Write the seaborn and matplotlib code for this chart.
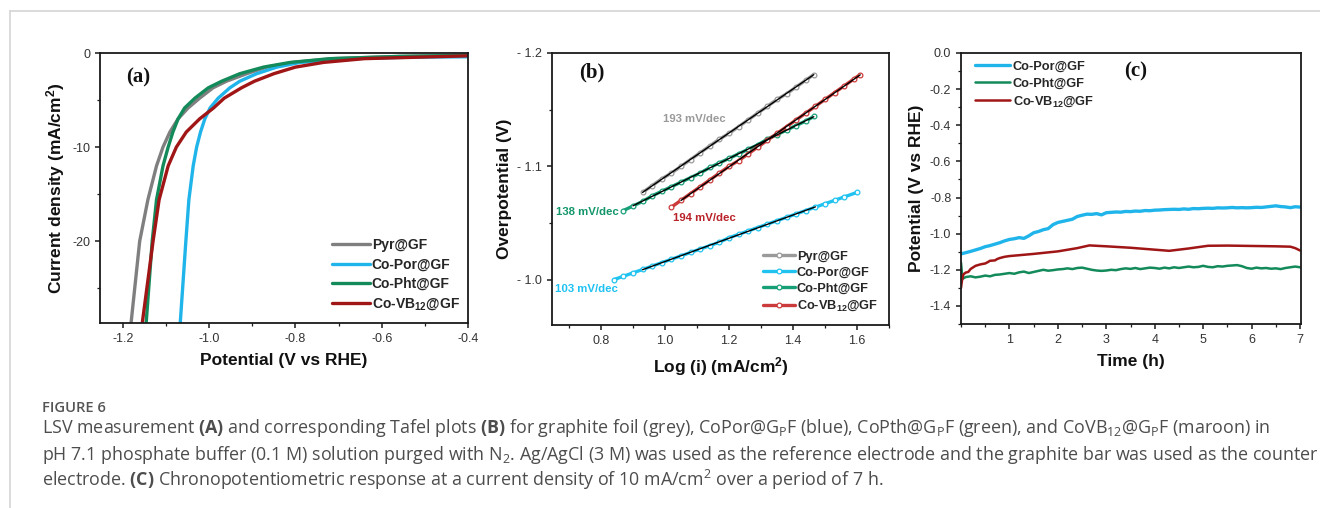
import numpy as np
import pandas as pd
import matplotlib
matplotlib.use("Agg")
import matplotlib.pyplot as plt
from matplotlib.ticker import MultipleLocator, FuncFormatter
from matplotlib.lines import Line2D
import seaborn as sns

# ---------------- data ----------------
series_a = ["Pyr@GF", "Co-Por@GF", "Co-Pht@GF", "Co-VB12@GF"]
labels = ["Pyr@GF", "Co-Por@GF", "Co-Pht@GF", r"Co-VB$_{\mathsf{12}}$@GF"]

# (a) LSV: potential (V vs RHE) and current density (mA/cm2)
pyr_E = [-1.186, -1.181, -1.161, -1.142, -1.122, -1.107, -1.091, -1.072, -1.049, -1.022,
         -0.991, -0.960, -0.913, -0.867, -0.805, -0.712, -0.557, -0.400]
pyr_j = [-30.0, -28.7, -20.0, -15.6, -12.0, -10.0, -8.4, -7.0, -5.85, -4.8,
         -3.7, -3.0, -2.2, -1.5, -1.0, -0.6, -0.36, -0.25]
por_E = [-1.069, -1.067, -1.054, -1.047, -1.037, -1.029, -1.020, -1.010, -0.998, -0.979,
         -0.952, -0.929, -0.890, -0.843, -0.789, -0.673, -0.540, -0.400]
por_j = [-30.0, -28.7, -20.0, -15.6, -12.0, -10.0, -8.4, -7.0, -5.85, -4.8,
         -3.7, -3.0, -2.2, -1.5, -1.0, -0.6, -0.45, -0.40]
pht_E = [-1.148, -1.146, -1.132, -1.122, -1.107, -1.095, -1.084, -1.072, -1.057, -1.033,
         -1.002, -0.971, -0.929, -0.874, -0.812, -0.720, -0.557, -0.400]
pht_j = [-30.0, -28.7, -20.0, -15.6, -12.0, -10.0, -8.4, -7.0, -5.85, -4.8,
         -3.7, -3.0, -2.2, -1.5, -1.0, -0.6, -0.36, -0.25]
vb_E = [-1.158, -1.155, -1.130, -1.116, -1.095, -1.076, -1.053, -1.022, -0.990, -0.965,
        -0.925, -0.895, -0.850, -0.800, -0.735, -0.640, -0.480, -0.400]
vb_j = [-30.0, -28.7, -20.0, -15.6, -12.0, -10.0, -8.4, -7.0, -5.85, -4.8,
        -3.7, -3.0, -2.2, -1.5, -1.0, -0.6, -0.40, -0.30]

# (b) Tafel: log(i) and overpotential (V)
pyr_logi = [0.93, 0.96, 0.99, 1.02, 1.05, 1.08, 1.11, 1.14, 1.17, 1.20, 1.23, 1.26, 1.29,
            1.32, 1.35, 1.38, 1.41, 1.44, 1.465]
pyr_eta = [-1.077, -1.083, -1.089, -1.094, -1.100, -1.106, -1.112, -1.118, -1.124, -1.129,
           -1.135, -1.141, -1.147, -1.153, -1.159, -1.164, -1.170, -1.176, -1.181]
por_logi = [0.84, 0.87, 0.90, 0.93, 0.96, 0.99, 1.02, 1.05, 1.08, 1.11, 1.14, 1.17, 1.20,
            1.23, 1.26, 1.29, 1.32, 1.35, 1.38, 1.41, 1.44, 1.47, 1.50, 1.53, 1.56, 1.60]
por_eta = [-1.000, -1.003, -1.006, -1.009, -1.012, -1.015, -1.018, -1.021, -1.024, -1.027,
           -1.030, -1.033, -1.037, -1.040, -1.043, -1.046, -1.049, -1.052, -1.055, -1.058,
           -1.061, -1.064, -1.067, -1.070, -1.073, -1.077]
pht_logi = [0.87, 0.90, 0.93, 0.96, 0.99, 1.02, 1.05, 1.08, 1.11, 1.14, 1.17, 1.20, 1.23,
            1.26, 1.29, 1.32, 1.35, 1.38, 1.41, 1.44, 1.465]
pht_eta = [-1.061, -1.065, -1.069, -1.074, -1.078, -1.082, -1.086, -1.090, -1.094, -1.099,
           -1.103, -1.107, -1.111, -1.115, -1.119, -1.124, -1.128, -1.132, -1.136, -1.140,
           -1.144]
vb_logi = [1.02, 1.05, 1.08, 1.11, 1.14, 1.17, 1.20, 1.23, 1.26, 1.29, 1.32, 1.35, 1.38,
           1.41, 1.44, 1.47, 1.50, 1.53, 1.56, 1.59, 1.61]
vb_eta = [-1.064, -1.070, -1.076, -1.082, -1.088, -1.094, -1.100, -1.105, -1.111, -1.117,
          -1.123, -1.129, -1.135, -1.141, -1.147, -1.153, -1.159, -1.165, -1.171, -1.177,
          -1.181]
tafel_slopes = ["193 mV/dec", "103 mV/dec", "138 mV/dec", "194 mV/dec"]

# (c) chronopotentiometry: time (h) and potential (V vs RHE)
t_por = [round(0.1 * k, 1) for k in range(71)]
E_por = [-1.112, -1.105, -1.098, -1.090, -1.082, -1.072, -1.066, -1.058, -1.050, -1.040,
         -1.032, -1.028, -1.022, -1.026, -1.012, -0.995, -0.988, -0.978, -0.972, -0.950,
         -0.938, -0.932, -0.926, -0.920, -0.905, -0.898, -0.892, -0.893, -0.889, -0.896,
         -0.884, -0.882, -0.880, -0.881, -0.877, -0.878, -0.875, -0.876, -0.872, -0.873,
         -0.870, -0.869, -0.867, -0.866, -0.865, -0.866, -0.863, -0.865, -0.861, -0.862,
         -0.860, -0.859, -0.860, -0.857, -0.858, -0.857, -0.855, -0.857, -0.856, -0.857,
         -0.856, -0.854, -0.855, -0.852, -0.849, -0.846, -0.850, -0.852, -0.856, -0.851,
         -0.853]
t_pht = [0.0, 0.03] + [round(0.1 * k, 1) for k in range(1, 71)]
E_pht = [-1.160, -1.250,
         -1.240, -1.236, -1.242, -1.238, -1.232, -1.236, -1.228, -1.226, -1.222, -1.218,
         -1.222, -1.214, -1.210, -1.218, -1.212, -1.206, -1.200, -1.205, -1.202, -1.198,
         -1.196, -1.192, -1.196, -1.190, -1.188, -1.194, -1.200, -1.204, -1.206, -1.204,
         -1.200, -1.202, -1.196, -1.192, -1.195, -1.190, -1.196, -1.192, -1.188, -1.190,
         -1.194, -1.188, -1.192, -1.186, -1.190, -1.186, -1.182, -1.186, -1.184, -1.178,
         -1.184, -1.186, -1.180, -1.182, -1.178, -1.176, -1.174, -1.180, -1.190, -1.194,
         -1.188, -1.192, -1.190, -1.194, -1.192, -1.196, -1.190, -1.186, -1.182, -1.186]
t_vb = [0.0, 0.02, 0.05, 0.10, 0.15, 0.20, 0.30, 0.40, 0.50, 0.55, 0.60, 0.70, 0.75, 0.80,
        0.90, 1.00, 1.50, 2.00, 2.40, 2.65, 3.00, 3.50, 4.30, 4.70, 5.10, 5.50, 6.00, 6.50,
        6.80, 6.90, 7.00]
E_vb = [-1.300, -1.260, -1.225, -1.215, -1.212, -1.195, -1.178, -1.170, -1.165, -1.158,
        -1.150, -1.148, -1.140, -1.135, -1.128, -1.124, -1.112, -1.098, -1.080, -1.065,
        -1.070, -1.078, -1.095, -1.082, -1.067, -1.066, -1.068, -1.070, -1.072, -1.080,
        -1.093]

# ---------------- style ----------------
sns.set_theme(style="ticks")
plt.rcParams.update({
    "font.family": ["Liberation Sans", "DejaVu Sans"],
    "axes.unicode_minus": False,
    "mathtext.fontset": "custom",
    "mathtext.rm": "Open Sans",
    "mathtext.it": "Open Sans:italic",
    "mathtext.bf": "Open Sans:bold",
    "mathtext.sf": "Liberation Sans:bold",
    "axes.linewidth": 1.3,
    "axes.edgecolor": "#1a1a1a",
    "xtick.color": "#1a1a1a",
    "ytick.color": "#1a1a1a",
    "xtick.labelcolor": "#333333",
    "ytick.labelcolor": "#333333",
    "xtick.direction": "out",
    "ytick.direction": "out",
    "xtick.major.size": 3.5,
    "ytick.major.size": 3.5,
    "xtick.minor.size": 2,
    "ytick.minor.size": 2,
    "xtick.major.width": 1.1,
    "ytick.major.width": 1.1,
    "xtick.minor.width": 0.9,
    "ytick.minor.width": 0.9,
    "xtick.labelsize": 9,
    "ytick.labelsize": 9,
})

c_grey_a, c_blue_a, c_green_a, c_red_a = "#7f7f7f", "#1fb4ea", "#138a5a", "#a01616"
c_grey_b, c_blue_b, c_green_b, c_red_b = "#9a9a9a", "#20c3f0", "#17a078", "#cc3b3b"

fig = plt.figure(figsize=(13.2, 5.08), dpi=100)
W, H = 1320, 508

def add_ax(l, t, r, b):
    return fig.add_axes([l / W, 1 - b / H, (r - l) / W, (b - t) / H])

ax_a = add_ax(100, 53, 468, 323)
ax_b = add_ax(552, 53, 889, 325)
ax_c = add_ax(961, 53, 1301, 324)

label_kw = dict(fontsize=12.5, fontweight="bold", color="#111111")
panel_kw = dict(fontsize=15, fontweight="bold", family="Liberation Serif", color="#111111")

# ---------------- (a) ----------------
for E, j, c, lab in [(pyr_E, pyr_j, c_grey_a, labels[0]), (por_E, por_j, c_blue_a, labels[1]),
                     (pht_E, pht_j, c_green_a, labels[2]), (vb_E, vb_j, c_red_a, labels[3])]:
    sns.lineplot(x=E, y=j, ax=ax_a, color=c, lw=2.4, label=lab, sort=False)
ax_a.set_xlim(-1.253, -0.4)
ax_a.set_ylim(-28.7, 0)
ax_a.xaxis.set_major_locator(MultipleLocator(0.2))
ax_a.xaxis.set_minor_locator(MultipleLocator(0.1))
ax_a.yaxis.set_major_locator(MultipleLocator(10))
ax_a.yaxis.set_minor_locator(MultipleLocator(5))
ax_a.xaxis.set_major_formatter(FuncFormatter(lambda v, p: f"{v:.1f}"))
ax_a.yaxis.set_major_formatter(FuncFormatter(lambda v, p: f"{v:.0f}"))
ax_a.set_xlabel("Potential (V vs RHE)", labelpad=6, **label_kw)
ax_a.set_ylabel(r"Current density (mA/cm$^{\mathsf{2}}$)", labelpad=4, **label_kw)
ax_a.text(0.07, 0.91, "(a)", transform=ax_a.transAxes, ha="left", va="center", **panel_kw)
ax_a.legend(loc="lower right", bbox_to_anchor=(1.0, 0.01), frameon=False,
            prop={"weight": "bold", "size": 10}, handlelength=2.7, handletextpad=0.15,
            labelspacing=0.38, borderaxespad=0.2)

# ---------------- (b) ----------------
for x, y, c, lab in [(pyr_logi, pyr_eta, c_grey_b, labels[0]), (por_logi, por_eta, c_blue_b, labels[1]),
                     (pht_logi, pht_eta, c_green_b, labels[2]), (vb_logi, vb_eta, c_red_b, labels[3])]:
    sns.lineplot(x=x, y=y, ax=ax_b, color=c, lw=2.4, marker="o", markersize=3.4,
                 markerfacecolor="white", markeredgecolor=c, markeredgewidth=0.9,
                 label=lab, sort=False)

fit_sets = [
    (pyr_logi, pyr_eta, 0.92, 1.47),
    (por_logi, por_eta, 0.92, 1.48),
    (pht_logi, pht_eta, 0.89, 1.47),
    (vb_logi, vb_eta, 1.04, 1.62),
]
for x, y, lo, hi in fit_sets:
    df = pd.DataFrame({"x": x, "y": y})
    df = df[(df.x >= lo) & (df.x <= hi)]
    sns.regplot(data=df, x="x", y="y", ax=ax_b, scatter=False, ci=None, truncate=True,
                color="black", line_kws={"lw": 1.0})

ax_b.set_xlim(0.647, 1.70)
ax_b.set_ylim(-0.96, -1.2)
ax_b.xaxis.set_major_locator(MultipleLocator(0.2))
ax_b.xaxis.set_minor_locator(MultipleLocator(0.1))
ax_b.yaxis.set_major_locator(MultipleLocator(0.1))
ax_b.yaxis.set_minor_locator(MultipleLocator(0.05))
ax_b.xaxis.set_major_formatter(FuncFormatter(lambda v, p: f"{v:.1f}"))
ax_b.yaxis.set_major_formatter(FuncFormatter(lambda v, p: f"- {abs(v):.1f}"))
ax_b.set_xlabel(r"Log (i) (mA/cm$^{\mathsf{2}}$)", labelpad=6, **label_kw)
ax_b.set_ylabel("Overpotential (V)", labelpad=4, **label_kw)
ax_b.text(0.08, 0.93, "(b)", transform=ax_b.transAxes, ha="left", va="center", **panel_kw)
ann_kw = dict(fontsize=8.2, fontweight="bold", ha="center", va="center")
ax_b.text(1.092, -1.142, tafel_slopes[0], color="#9a9a9a", **ann_kw)
ax_b.text(0.755, -0.992, tafel_slopes[1], color="#1ec2f2", **ann_kw)
ax_b.text(0.757, -1.060, tafel_slopes[2], color="#13976a", **ann_kw)
ax_b.text(1.122, -1.054, tafel_slopes[3], color="#b82228", **ann_kw)
ax_b.legend(loc="lower right", bbox_to_anchor=(0.99, 0.015), frameon=False,
            prop={"weight": "bold", "size": 9.2}, handlelength=2.5, handletextpad=0.15,
            labelspacing=0.32, borderaxespad=0.2)

# ---------------- (c) ----------------
for t, E, c, lw, lab in [(t_por, E_por, c_blue_a, 2.4, labels[1]),
                         (t_pht, E_pht, c_green_a, 1.8, labels[2]),
                         (t_vb, E_vb, c_red_a, 1.8, labels[3])]:
    sns.lineplot(x=t, y=E, ax=ax_c, color=c, lw=lw, label=lab, sort=False)
ax_c.set_xlim(0, 7.02)
ax_c.set_ylim(-1.5, 0.0)
ax_c.set_xticks([1, 2, 3, 4, 5, 6, 7])
ax_c.xaxis.set_minor_locator(MultipleLocator(0.5))
ax_c.yaxis.set_major_locator(MultipleLocator(0.2))
ax_c.yaxis.set_minor_locator(MultipleLocator(0.1))
ax_c.xaxis.set_major_formatter(FuncFormatter(lambda v, p: f"{v:.0f}"))
ax_c.yaxis.set_major_formatter(FuncFormatter(lambda v, p: f"{v:.1f}"))
ax_c.set_xlabel("Time (h)", labelpad=6, **label_kw)
ax_c.set_ylabel("Potential (V vs RHE)", labelpad=4, **label_kw)
ax_c.text(0.48, 0.93, "(c)", transform=ax_c.transAxes, ha="left", va="center", **panel_kw)
ax_c.legend(loc="upper left", bbox_to_anchor=(0.02, 1.0), frameon=False,
            prop={"weight": "bold", "size": 9.2}, handlelength=2.7, handletextpad=0.2,
            labelspacing=0.38, borderaxespad=0.2)

for ax in (ax_a, ax_b, ax_c):
    for s in ax.spines.values():
        s.set_visible(True)
        s.set_linewidth(1.3)
        s.set_color("#1a1a1a")
    ax.tick_params(which="both", top=False, right=False)

# ---------------- frame and caption ----------------
fig.add_artist(Line2D([10 / W, 1.0], [1 - 11 / H, 1 - 11 / H], color="#d4d4d4", lw=1.2))
fig.add_artist(Line2D([10 / W, 10 / W], [1 - 11 / H, 0.0], color="#d4d4d4", lw=1.2))

cap_kw = dict(family=["Open Sans", "DejaVu Sans"], color="#4d4d4d", fontsize=12.9,
              ha="left", va="baseline")
fig.text(42 / W, 1 - 412 / H, "FIGURE 6", family=["Open Sans", "DejaVu Sans"],
         color="#555555", fontsize=10.6, fontweight="semibold", ha="left", va="baseline")
fig.text(42 / W, 1 - 433 / H,
         r"LSV measurement $\mathbf{(A)}$ and corresponding Tafel plots $\mathbf{(B)}$ for graphite foil (grey), "
         r"CoPor@G$_\mathrm{P}$F (blue), CoPth@G$_\mathrm{P}$F (green), and CoVB$_{12}$@G$_\mathrm{P}$F (maroon) in",
         **cap_kw)
fig.text(42 / W, 1 - 460 / H,
         r"pH 7.1 phosphate buffer (0.1 M) solution purged with N$_2$. Ag/AgCl (3 M) was used as the reference "
         r"electrode and the graphite bar was used as the counter",
         **cap_kw)
fig.text(42 / W, 1 - 486 / H,
         r"electrode. $\mathbf{(C)}$ Chronopotentiometric response at a current density of 10 mA/cm$^2$ "
         r"over a period of 7 h.",
         **cap_kw)

fig.savefig("out.png", dpi=100)
